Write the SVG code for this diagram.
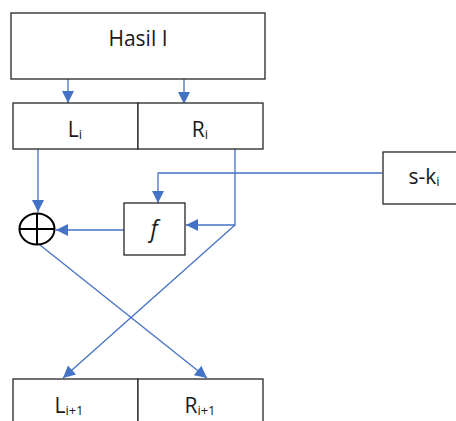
<svg xmlns="http://www.w3.org/2000/svg" width="456" height="421" viewBox="0 0 456 421">
<defs>
<style>
.box{fill:#fff;stroke:#262626;stroke-width:1.3}
.ln{fill:none;stroke:#4472C4;stroke-width:1.3}
.t{font-family:"Open Sans","Liberation Sans",sans-serif;font-size:21px;fill:#1a1a1a;text-anchor:middle}
.s{font-size:13px}
</style>
<marker id="ah2" viewBox="0 0 10 10" refX="10" refY="5" markerWidth="13" markerHeight="12" markerUnits="userSpaceOnUse" orient="auto">
<path d="M0,0 L10,5 L0,10 Z" fill="#4472C4"/>
</marker>
</defs>
<rect width="456" height="421" fill="#fff"/>
<g id="connectors">
<line class="ln" x1="68" y1="79" x2="68" y2="103" marker-end="url(#ah2)"/>
<line class="ln" x1="184" y1="79" x2="184" y2="104" marker-end="url(#ah2)"/>
<line class="ln" x1="38" y1="149" x2="38" y2="212" marker-end="url(#ah2)"/>
<line class="ln" x1="124" y1="230" x2="56" y2="230" marker-end="url(#ah2)"/>
<polyline class="ln" points="235,149 235,225 186,225" marker-end="url(#ah2)"/>
<polyline class="ln" points="382,173 158,173 158,203" marker-end="url(#ah2)"/>
<line class="ln" x1="40" y1="245" x2="207" y2="378" marker-end="url(#ah2)"/>
<line class="ln" x1="235" y1="225" x2="63" y2="378" marker-end="url(#ah2)"/>
</g>
<g id="hasil">
<rect class="box" x="11" y="13" width="254" height="66"/>
<text class="t" x="138" y="46">Hasil I</text>
</g>
<g id="Li">
<rect class="box" x="13" y="103" width="125" height="46"/>
<text class="t" x="75" y="137">L<tspan class="s" dy="2">i</tspan></text>
</g>
<g id="Ri">
<rect class="box" x="138" y="103" width="125" height="46"/>
<text class="t" x="200" y="137">R<tspan class="s" dy="2">i</tspan></text>
</g>
<g id="ski">
<rect class="box" x="383" y="152" width="80" height="52"/>
<text class="t" x="424" y="184">s-k<tspan class="s" dy="2">i</tspan></text>
</g>
<g id="f">
<rect class="box" x="124" y="203" width="61" height="52"/>
<text class="t" x="154" y="237" font-style="italic" font-size="23" font-family="Liberation Serif, serif" style="font-size:23px">f</text>
</g>
<g id="xor">
<ellipse cx="37" cy="229" rx="17.5" ry="15.5" fill="#fff" stroke="#000" stroke-width="2"/>
<line x1="19.5" y1="229" x2="54.5" y2="229" stroke="#000" stroke-width="2"/>
<line x1="37" y1="213.5" x2="37" y2="244.5" stroke="#000" stroke-width="2"/>
</g>
<g id="Li1">
<rect class="box" x="13" y="379" width="125" height="60"/>
<text class="t" x="69" y="413">L<tspan class="s" dy="2">i+1</tspan></text>
</g>
<g id="Ri1">
<rect class="box" x="138" y="379" width="125" height="60"/>
<text class="t" x="200" y="413">R<tspan class="s" dy="2">i+1</tspan></text>
</g>
</svg>
